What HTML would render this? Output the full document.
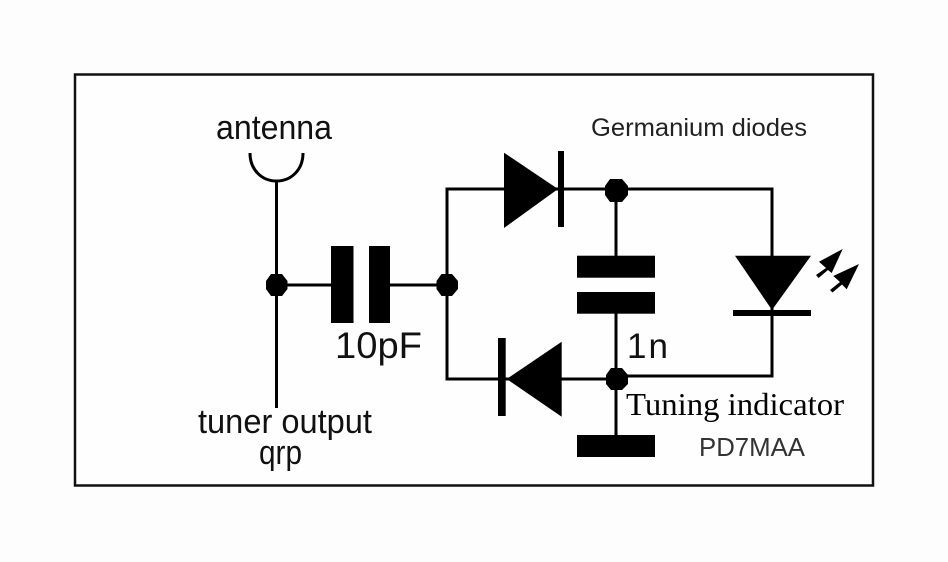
<!DOCTYPE html>
<html>
<head>
<meta charset="utf-8">
<style>
html,body{margin:0;padding:0;background:#fdfdfd}
svg{display:block}
text{font-family:"Liberation Sans",sans-serif;fill:#111}
</style>
</head>
<body>
<svg width="948" height="562" viewBox="0 0 948 562" xmlns="http://www.w3.org/2000/svg">
<rect width="948" height="562" fill="#fdfdfd"/>
<rect x="75" y="74.500" width="798" height="411" fill="#fefefe" stroke="#111" stroke-width="2.500"/>
<g fill="none" stroke="#000" stroke-width="3">
<path d="M250 153C250 170 262 181 276.500 181C291 181 303 170 303 153"/>
<path d="M276.500 181V408"/>
<path d="M276.500 285H331"/>
<path d="M390 285H447"/>
<path d="M558 189H447V379H616"/>
<path d="M564 189H772V376H616"/>
<path d="M616 190V256"/>
<path d="M616 313V436"/>
</g>
<g fill="#000">
<polygon points="266,281 271,274 282,274 287.500,281 287.500,289 282,296 271,296 266,289"/>
<polygon points="436.500,281 441.500,274 452,274 458,281 458,289 452,296 441.500,296 436.500,289"/>
<polygon points="605,186 610,179 622,179 628,186 628,195 622,202 610,202 605,195"/>
<polygon points="606,375 611,368 622,368 628,375 628,384 622,390 611,390 606,384"/>
<rect x="331" y="246" width="22.500" height="77"/>
<rect x="369" y="246" width="21" height="77"/>
<polygon points="504,152.700 504,228 558,189"/>
<rect x="558" y="151" width="6" height="76"/>
<polygon points="561.700,341.700 561.700,416.700 506.700,379"/>
<rect x="498" y="338" width="7.700" height="78"/>
<rect x="577" y="255.700" width="78" height="22"/>
<rect x="577" y="292" width="78" height="21.700"/>
<rect x="577" y="435" width="78" height="22"/>
<polygon points="735,255.700 811,255.700 772,310"/>
<rect x="733" y="310" width="78" height="6"/>
<polygon points="842.700,249 819,261.700 826,268 816,275 818.500,278 828,270 831.700,273"/>
<polygon points="859,264 833.300,276 840,282 830,290 832.500,292.500 842,284.500 846.700,289.300"/>
</g>
<text x="216" y="139" font-size="34" textLength="116" lengthAdjust="spacingAndGlyphs">antenna</text>
<text x="198" y="433" font-size="34" textLength="174" lengthAdjust="spacingAndGlyphs">tuner output</text>
<text x="259" y="464" font-size="34" textLength="43" lengthAdjust="spacingAndGlyphs">qrp</text>
<text x="335" y="358" font-size="37" textLength="87" lengthAdjust="spacingAndGlyphs">10pF</text>
<text x="627" y="358" font-size="35" textLength="41">1n</text>
<text x="591" y="136" font-size="25" textLength="216" lengthAdjust="spacingAndGlyphs" style="fill:#222">Germanium diodes</text>
<text x="626" y="415" font-size="32" textLength="218" lengthAdjust="spacingAndGlyphs" style="font-family:'Liberation Serif',serif;fill:#000">Tuning indicator</text>
<text x="699" y="456" font-size="26" textLength="106" lengthAdjust="spacingAndGlyphs" style="fill:#333">PD7MAA</text>
</svg>
</body>
</html>
